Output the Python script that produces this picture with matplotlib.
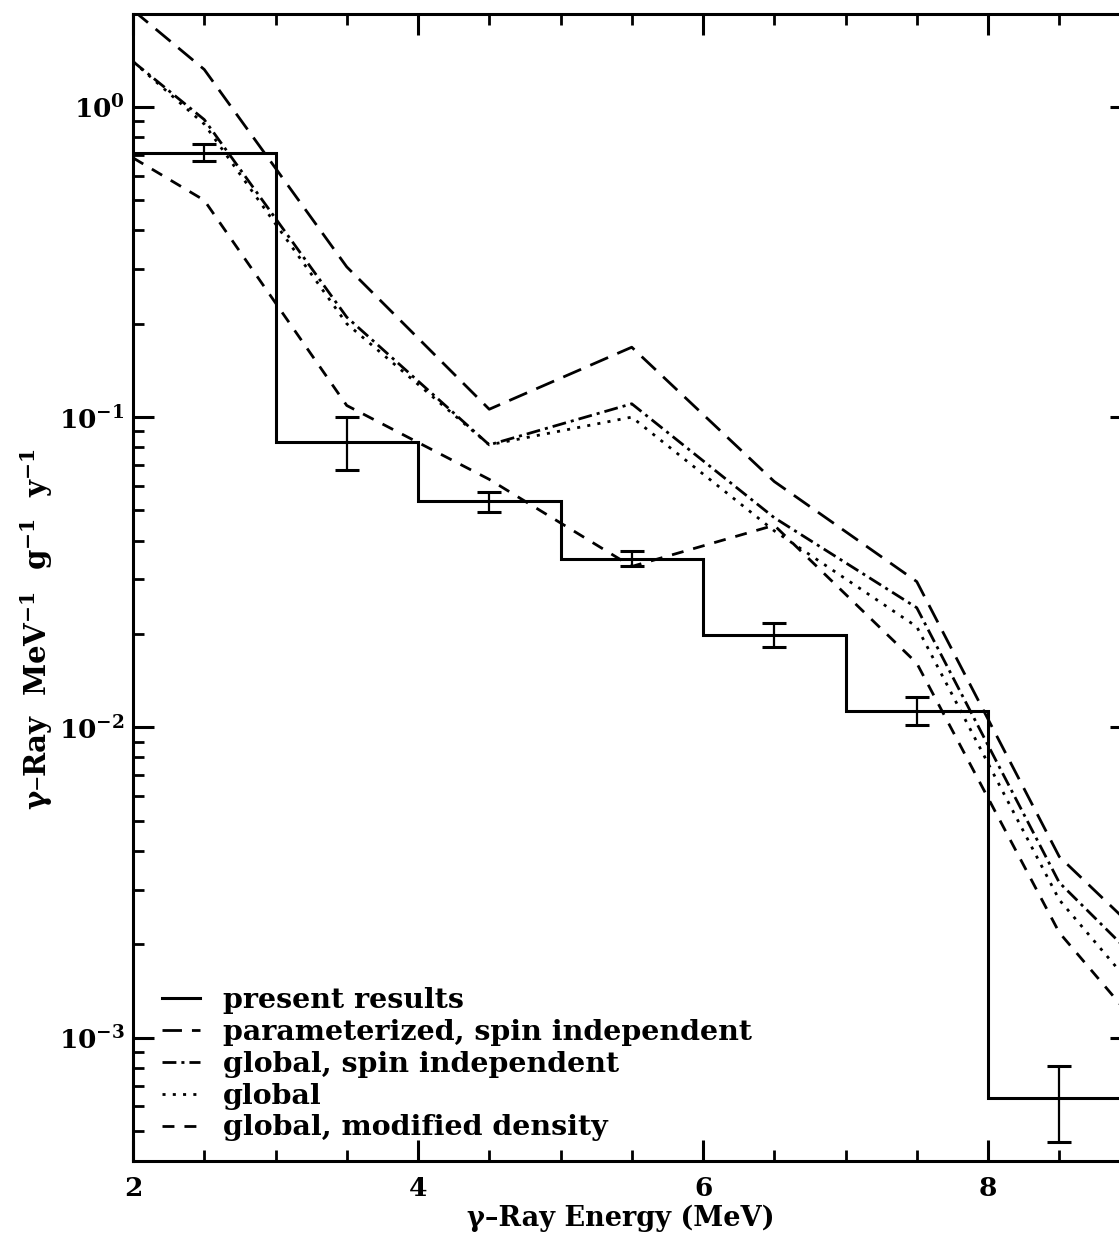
import matplotlib
matplotlib.use("Agg")
import matplotlib.pyplot as plt
from matplotlib.ticker import MultipleLocator, LogLocator, FuncFormatter, NullFormatter
import numpy as np

plt.rcParams['font.family'] = ['DejaVu Serif']
plt.rcParams['font.weight'] = 'bold'
plt.rcParams['mathtext.fontset'] = 'dejavuserif'
plt.rcParams['mathtext.default'] = 'bf'

# Measured spectrum: 1 MeV bins from 2 to 9 MeV
bin_edges = [2, 3, 4, 5, 6, 7, 8, 9]
measured = [0.712, 0.0832, 0.0537, 0.0349, 0.0199, 0.0113, 0.00064]
err_centers = [2.5, 3.5, 4.5, 5.5, 6.5, 7.5, 8.5]
err_upper = [0.760, 0.1002, 0.0574, 0.0371, 0.0217, 0.01256, 0.00081]
err_lower = [0.671, 0.0676, 0.0495, 0.0330, 0.0182, 0.0102, 0.000462]

# Model predictions
model_energy = [2.0, 2.5, 3.5, 4.5, 5.5, 6.5, 7.5, 8.5, 9.0]
param_spin_indep = [2.05, 1.32, 0.305, 0.106, 0.168, 0.062, 0.0295, 0.00383, 0.00231]
global_spin_indep = [1.40, 0.91, 0.21, 0.0814, 0.1104, 0.0474, 0.0243, 0.00316, 0.00187]
global_model = [1.40, 0.88, 0.200, 0.0814, 0.100, 0.043, 0.0211, 0.00278, 0.00149]
global_mod_density = [0.685, 0.50, 0.109, 0.063, 0.033, 0.0448, 0.0161, 0.00218, 0.00117]

fig = plt.figure(figsize=(11.19, 12.4), dpi=100)
W, H = 1119, 1240
x0, x1, ytop, ybot = 133, 1130.5, 13.5, 1161
ax = fig.add_axes([x0 / W, (H - ybot) / H, (x1 - x0) / W, (ybot - ytop) / H])

ax.stairs(measured, bin_edges, color='black', lw=2.2, baseline=None, label='present results')

lo = np.array(measured) - np.array(err_lower)
hi = np.array(err_upper) - np.array(measured)
ax.errorbar(err_centers, measured, yerr=[lo, hi], fmt='none', ecolor='black',
            elinewidth=1.6, capsize=8.3, capthick=2.2)

lw = 2.0
ax.plot(model_energy, param_spin_indep, color='black', lw=lw, ls=(0, (7.0, 3.6)),
        label='parameterized, spin independent')
ax.plot(model_energy, global_spin_indep, color='black', lw=lw, ls=(0, (5.0, 1.8, 1.1, 1.8)),
        label='global, spin independent')
ax.plot(model_energy, global_model, color='black', lw=lw, ls=(0, (1.1, 2.6)),
        label='global')
ax.plot(model_energy, global_mod_density, color='black', lw=lw, ls=(0, (4.3, 3.6)),
        label='global, modified density')

ax.set_yscale('log')
ax.set_xlim(2, 9)
ax.set_ylim(4e-4, 2)

ax.xaxis.set_major_locator(MultipleLocator(2))
ax.xaxis.set_minor_locator(MultipleLocator(0.5))
ax.yaxis.set_major_locator(LogLocator(base=10, numticks=10))
ax.yaxis.set_minor_locator(LogLocator(base=10, subs=np.arange(2, 10), numticks=20))
ax.yaxis.set_minor_formatter(NullFormatter())
ax.yaxis.set_major_formatter(FuncFormatter(lambda v, p: r'$\mathbf{10^{%d}}$' % int(round(np.log10(v)))))
ax.xaxis.set_major_formatter(FuncFormatter(lambda v, p: '%d' % v))

for s in ax.spines.values():
    s.set_linewidth(2.2)
ax.tick_params(which='both', direction='in', top=True, right=True)
ax.tick_params(which='major', length=15, width=2.2, labelsize=19)
ax.tick_params(which='minor', length=8, width=2.0)
ax.tick_params(axis='x', which='major', pad=11)
ax.tick_params(axis='y', which='major', pad=6)

ax.set_xlabel('γ–Ray Energy (MeV)', fontsize=19.5, fontweight='bold')
ax.xaxis.set_label_coords(0.489, -0.0497)
ax.xaxis.label.set_va('center')
ax.set_ylabel(r'γ–Ray  MeV$^{-1}$  g$^{-1}$  y$^{-1}$', fontsize=21, fontweight='bold')
ax.yaxis.set_label_coords(-0.097, 0.463)
ax.yaxis.label.set_va('center')

ax.legend(loc='lower left', bbox_to_anchor=(0.029, 0.017), frameon=False,
          handlelength=1.35, handletextpad=0.8, labelspacing=0.17, borderaxespad=0.0,
          borderpad=0.0, prop={'weight': 'bold', 'size': 20.5})

fig.savefig('out.png', dpi=100)
